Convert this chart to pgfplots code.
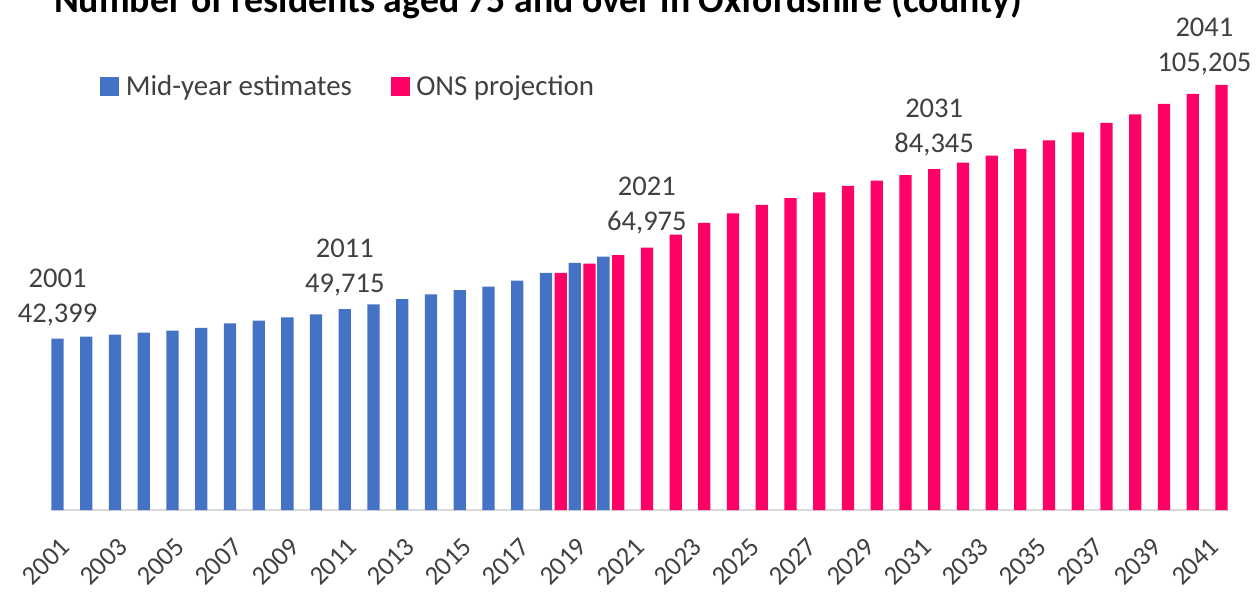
\documentclass[border=0pt]{standalone}
\usepackage{fontspec}
\setmainfont{Carlito}
\usepackage{pgfplots}
\pgfplotsset{compat=1.18}

\definecolor{estblue}{HTML}{4472C4}
\definecolor{projpink}{HTML}{FF0066}
\definecolor{txtgray}{HTML}{404040}
\definecolor{axisgray}{HTML}{D9D9D9}

\begin{document}
\begin{tikzpicture}
\begin{axis}[
    at={(37.95pt,62.25pt)}, anchor=south west,
    scale only axis,
    width=883.35pt, height=363.6pt,
    xmin=2000.5, xmax=2041.5,
    ymin=0, ymax=120000,
    axis x line*=bottom, axis y line=none,
    x axis line style={draw=axisgray, line width=1.1pt},
    xtick={2001,2003,...,2041}, ytick=\empty,
    major tick length=0pt,
    /pgf/number format/1000 sep={},
    /pgf/number format/assume math mode=true,
    xticklabel style={xshift=-4.5pt, yshift=-19.5pt, rotate=45,
        anchor=north east, inner sep=0pt, text=txtgray,
        font=\fontsize{20pt}{24pt}\selectfont},
    ybar, bar width=9.2pt,
    legend columns=2,
    legend style={at={(0.0419,0.874)}, anchor=west, draw=none, fill=none,
        inner sep=0pt, text=txtgray,
        font=\fontsize{21.7pt}{26pt}\selectfont,
        /tikz/every odd column/.append style={column sep=3pt},
        /tikz/every even column/.append style={column sep=27pt}},
    legend image code/.code={\fill[#1] (0pt,-7.1pt) rectangle (14.25pt,7.1pt);},
]
% mid-year estimates
\addplot[fill=estblue, draw=none, bar shift=-5.55pt] coordinates {
    (2001,42399) (2002,42900) (2003,43400) (2004,43900) (2005,44400)
    (2006,45100) (2007,46200) (2008,46900) (2009,47700) (2010,48400)
    (2011,49715) (2012,50900) (2013,52200) (2014,53400) (2015,54400)
    (2016,55300) (2017,56800) (2018,58700) (2019,61200) (2020,62700)
};
\addlegendentry{Mid-year estimates}
% ONS projection
\addplot[fill=projpink, draw=none, bar shift=5.55pt] coordinates {
    (2018,58700) (2019,61000) (2020,63100) (2021,64975) (2022,68150)
    (2023,71100) (2024,73400) (2025,75500) (2026,77200) (2027,78600)
    (2028,80200) (2029,81500) (2030,82900) (2031,84345) (2032,86000)
    (2033,87700) (2034,89400) (2035,91500) (2036,93500) (2037,95800)
    (2038,97900) (2039,100500) (2040,103000) (2041,105205)
};
\addlegendentry{ONS projection}

% data labels
\pgfplotsset{lbl/.style={draw=none, fill=none, forget plot,
    point meta=explicit symbolic, nodes near coords,
    nodes near coords style={align=center, inner sep=0pt, text=txtgray,
        font=\fontsize{21.4pt}{26.25pt}\selectfont}}}
\addplot[lbl, bar shift=-5.55pt,
    nodes near coords style={yshift=9.5pt}] coordinates {
    (2001,42399) [{2001\\42,399}] (2011,49715) [{2011\\49,715}]
};
\addplot[lbl, bar shift=5.55pt,
    nodes near coords style={yshift=9.5pt}] coordinates {
    (2021,64975) [{2021\\64,975}] (2031,84345) [{2031\\84,345}]
};
\addplot[lbl, bar shift=5.55pt,
    nodes near coords style={yshift=7.5pt, xshift=-12.75pt}] coordinates {
    (2041,105205) [{2041\\105,205}]
};
\end{axis}
\node[anchor=base, font=\bfseries\fontsize{28.3pt}{33pt}\selectfont]
    at (403.5pt,435pt) {Number of residents aged 75 and over in Oxfordshire (county)};
\pgfresetboundingbox
\useasboundingbox (0pt,0pt) rectangle (942pt,444.75pt);
\end{tikzpicture}
\end{document}
